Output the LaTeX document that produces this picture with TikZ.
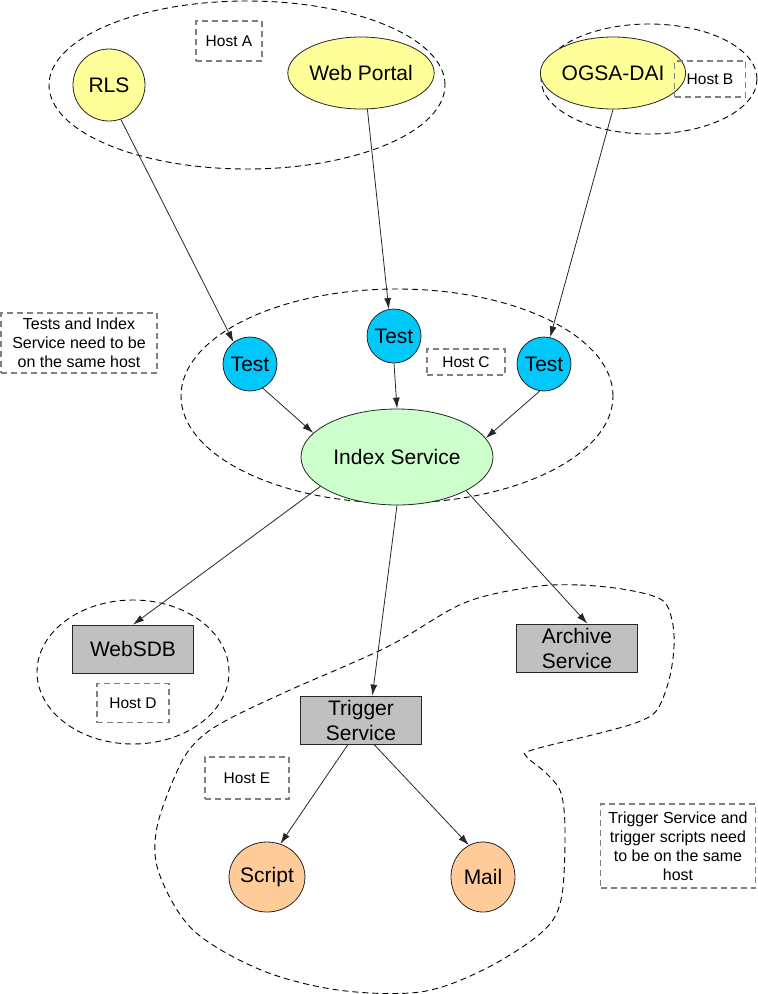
\documentclass[tikz,border=0pt]{standalone}
\usepackage{fontspec}
\setmainfont{Liberation Sans}
\usetikzlibrary{
	positioning				% relative placement
	, arrows.meta			% sized arrow tips
	, shapes				% ellipse nodes
	, calc
}
\definecolor{srcyellow}{RGB}{255,255,153}
\definecolor{testblue}{RGB}{0,200,250}
\definecolor{indexgreen}{RGB}{204,255,204}
\definecolor{servgray}{RGB}{192,192,192}
\definecolor{outpeach}{RGB}{255,204,153}

\begin{document}
\begin{tikzpicture}[
				x=1pt, y=-1pt,
				element/.style={
					draw=black!85,
					line width=0.8pt,
					inner sep=0pt,
					font=\fontsize{21}{25}\selectfont,
					align=center
				},
				source/.style={
					element,
					ellipse,
					fill=srcyellow
				},
				test/.style={
					element,
					circle,
					fill=testblue,
					minimum size=54pt
				},
				service/.style={
					element,
					rectangle,
					fill=servgray,
					minimum width=121pt,
					minimum height=48pt
				},
				output/.style={
					element,
					ellipse,
					fill=outpeach,
					minimum width=64pt,
					minimum height=70pt
				},
				host/.style={
					ellipse,
					draw=black,
					line width=0.9pt,
					dash pattern=on 6pt off 4pt
				},
				hostlabel/.style={
					rectangle,
					draw=black!50,
					line width=1.3pt,
					dash pattern=on 6pt off 4pt,
					inner sep=0pt,
					align=center,
					font=\fontsize{15.5}{19}\selectfont
				},
				note/.style={
					hostlabel,
					font=\fontsize{16}{19}\selectfont
				},
				arrow/.style={
					-{Latex[length=11pt,width=7pt]},
					draw=black!85,
					line width=0.8pt
				}]

			\useasboundingbox (0,0) rectangle (758,994);

			%%% Host A and Host B
			\node [host, minimum width=396pt, minimum height=168pt] (hostA) at (247,85) {};
			\node [hostlabel, minimum width=66pt, minimum height=40pt] (labelA) at (229,41) {Host A};
			\node [source, circle, minimum size=72pt] (rls) at (109,85) {RLS};
			\node [source, minimum width=120pt, minimum height=72pt] (portal) at (361,73) {Web Portal};

			\node [host, minimum width=216pt, minimum height=110pt] (hostB) at (649,79) {};
			\node [source, minimum width=120pt, minimum height=72pt] (ogsa) at (613,73) {OGSA-DAI};
			\node [hostlabel, minimum width=71pt, minimum height=36pt] (labelB) at (710,79) {Host B};

			%%% Host C: the tests and the index
			\node [host, minimum width=432pt, minimum height=214pt] (hostC) at (397,396) {};
			\foreach \name/\x/\y in {testA/250/364, testB/394/336, testC/544/364} {
				\node [test] (\name) at (\x,\y) {Test};
			};
			\node [hostlabel, minimum width=78pt, minimum height=26pt] (labelC) at (466,362) {Host C};
			\node [element, ellipse, fill=indexgreen, minimum width=192pt, minimum height=96pt] (index) at (397,457) {Index Service};
			\node [note, minimum width=156pt, minimum height=60pt] (noteC) at (79,343) {Tests and Index\\Service need to be\\on the same host};

			%%% Host D
			\node [host, minimum width=192pt, minimum height=144pt] (hostD) at (133,672) {};
			\node [service] (websdb) at (133,649) {WebSDB};
			\node [hostlabel, minimum width=72pt, minimum height=39pt] (labelD) at (133,703) {Host D};

			%%% Host E
			\draw [draw=black, line width=0.9pt, dash pattern=on 6pt off 4pt]
				plot [smooth cycle, tension=0.55] coordinates {
					(532,587) (580,585) (628,590) (662,600) (672,620) (674,647)
					(669,680) (657,710) (638,722) (604,732) (532,750) (527,757)
					(546,773) (561,793) (565,833) (561,900) (541,933) (483,970)
					(420,992) (338,990) (261,970) (193,930) (159,873) (157,827)
					(179,767) (198,740) (227,720) (290,690) (387,647) (464,603)
				};
			\node [service] (archive) at (577,648) {Archive\\Service};
			\node [service] (trigger) at (361,720) {Trigger\\Service};
			\node [hostlabel, minimum width=84pt, minimum height=42pt] (labelE) at (247,778) {Host E};
			\node [output] (script) at (267,877) {Script};
			\node [output] (mail) at (483,877) {Mail};
			\node [note, minimum width=155pt, minimum height=84pt] (noteE) at (678,846) {Trigger Service and\\trigger scripts need\\to be on the same\\host};

			%%% Connections
			\draw [arrow] (rls.-71) -- (testA.127);
			\draw [arrow] (portal.-80) -- (testB.101);
			\draw [arrow] (ogsa.-90) -- (testC.77);
			\draw [arrow] (testA.-62) -- (index.164);
			\draw [arrow] (testB.-90) -- (index.90);
			\draw [arrow] (testC.-99) -- (index.12);
			\draw [arrow] (index.201) -- (websdb.north);
			\draw [arrow] (index.-90) -- (trigger.65);
			\draw [arrow] (index.-26) -- (archive.67);
			\draw [arrow] (trigger.-118) -- (script.68);
			\draw [arrow] (trigger.-62) -- (mail.114);

		\end{tikzpicture}
\end{document}
